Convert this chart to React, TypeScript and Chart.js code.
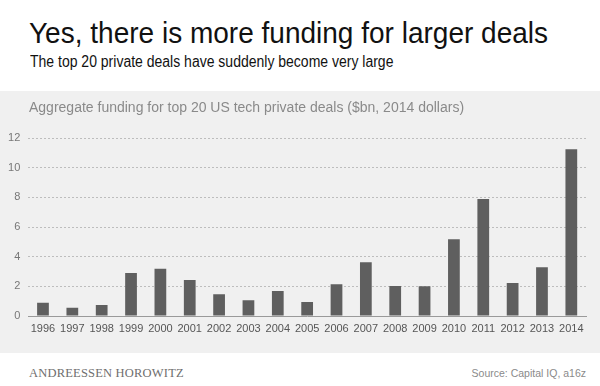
import React, { useEffect, useRef } from "react";
import { Chart, registerables } from "chart.js";

Chart.register(...registerables);

const years = ["1996","1997","1998","1999","2000","2001","2002","2003","2004","2005","2006","2007","2008","2009","2010","2011","2012","2013","2014"];
const funding = [0.9,0.56,0.74,2.9,3.18,2.43,1.46,1.06,1.69,0.95,2.14,3.63,2.03,2.0,5.18,7.88,2.23,3.29,11.24];
const yTicks = [0,2,4,6,8,10,12];

const titleText = "Yes, there is more funding for larger deals";
const subtitleText = "The top 20 private deals have suddenly become very large";
const chartTitle = "Aggregate funding for top 20 US tech private deals ($bn, 2014 dollars)";
const footerLeft = "ANDREESSEN HOROWITZ";
const footerRight = "Source: Capital IQ, a16z";

export default function App() {
  const ref = useRef<HTMLCanvasElement | null>(null);
  useEffect(() => {
    if (!ref.current) return;
    const chart = new Chart(ref.current, {
      type: "bar",
      data: {
        labels: years,
        datasets: [{
          data: funding,
          backgroundColor: "#5f5f5f",
          barPercentage: 0.4,
          categoryPercentage: 1,
        }],
      },
      options: {
        animation: false,
        responsive: false,
        maintainAspectRatio: false,
        layout: { padding: { top: 47, right: 14, left: 0, bottom: 0 } },
        plugins: { legend: { display: false }, tooltip: { enabled: false }, title: { display: false } },
        scales: {
          x: {
            grid: { display: false, drawTicks: false },
            border: { display: true, color: "#9a9a9a", width: 1 },
            ticks: { color: "#555555", font: { family: "Liberation Sans, Arial, sans-serif", size: 11 }, padding: 6, maxRotation: 0, autoSkip: false },
            afterFit: (s: any) => { s.height = 37; },
          },
          y: {
            min: 0,
            max: 12,
            afterBuildTicks: (s: any) => { s.ticks = yTicks.map((v) => ({ value: v })); },
            grid: {
              display: true,
              drawTicks: false,
              color: "#bdbdbd",
              lineWidth: 1,
            },
            border: { display: false, dash: [2, 2] },
            ticks: { color: "#777777", font: { family: "Liberation Sans, Arial, sans-serif", size: 11 }, padding: 8 },
            afterFit: (s: any) => { s.width = 28.3; },
          },
        },
      },
    });
    return () => chart.destroy();
  }, []);

  const sans = "'Liberation Sans', Arial, Helvetica, sans-serif";
  return (
    <div style={{ position: "fixed", left: 0, top: 0, width: 600, height: 386, background: "#ffffff", overflow: "hidden", fontFamily: sans }}>
      <div style={{ position: "absolute", left: 29, top: 16, fontSize: 29, color: "#111", whiteSpace: "nowrap", lineHeight: "34px", transform: "scaleX(0.966)", transformOrigin: "left top" }}>{titleText}</div>
      <div style={{ position: "absolute", left: 30, top: 53, fontSize: 16, color: "#111", whiteSpace: "nowrap", lineHeight: "18px", transform: "scaleX(0.875)", transformOrigin: "left top" }}>{subtitleText}</div>
      <div style={{ position: "absolute", left: 0, top: 91, width: 600, height: 262, background: "#f0f0f0" }}>
        <canvas ref={ref} width={600} height={262} style={{ position: "absolute", left: 0, top: 0, width: 600, height: 262 }} />
        <div style={{ position: "absolute", left: 29, top: 8, fontSize: 14, color: "#8a8a8a", whiteSpace: "nowrap", lineHeight: "16px" }}>{chartTitle}</div>
      </div>
      <div style={{ position: "absolute", left: 29, top: 366, fontSize: 12.5, color: "#6e6e6e", whiteSpace: "nowrap", lineHeight: "14px", fontFamily: "'Liberation Serif', 'Times New Roman', serif", letterSpacing: 0.2 }}>{footerLeft}</div>
      <div style={{ position: "absolute", right: 14, top: 366, fontSize: 10.5, color: "#8a8a8a", whiteSpace: "nowrap", lineHeight: "14px" }}>{footerRight}</div>
    </div>
  );
}
